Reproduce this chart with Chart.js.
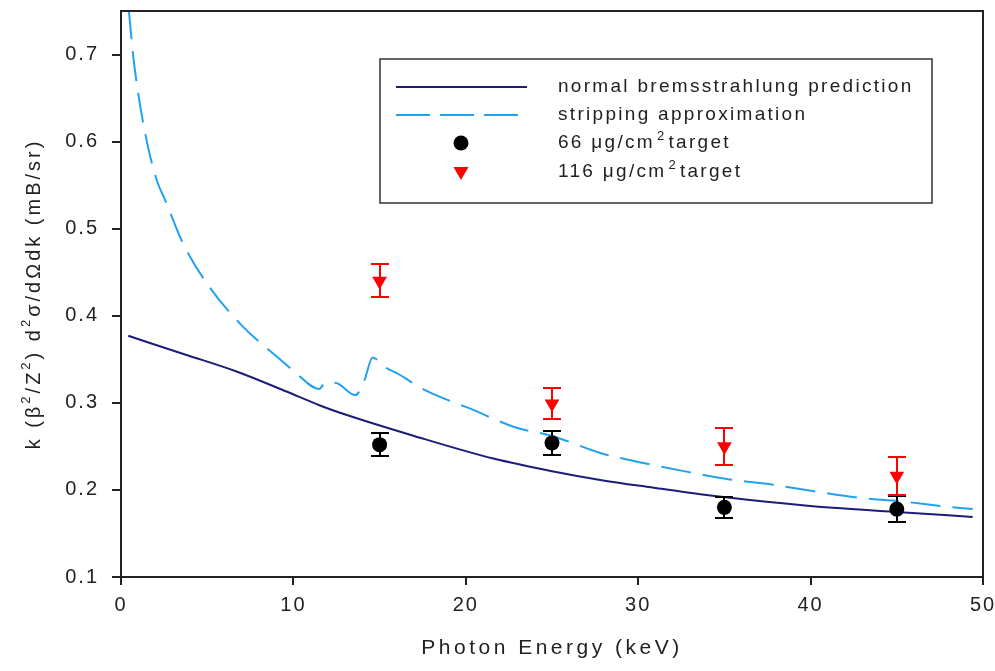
<!DOCTYPE html>
<html>
<head>
<meta charset="utf-8">
<script src="https://cdn.jsdelivr.net/npm/chart.js@4"></script>
<style>
  html, body { margin: 0; padding: 0; background: #fff; }
  #wrap { width: 995px; height: 671px; }
</style>
</head>
<body>
<div id="wrap"><canvas id="chart" width="995" height="671"></canvas></div>
<script>
// theory curves, photon energy (keV) vs k (b^2/Z^2) d2s/dOdk
const bremE = [0.42, 3.8, 6.7, 9.6, 11.54, 13.1, 17.0, 21.6, 25.0, 27.8, 30.9, 33.6, 37.45, 41.3, 45.2, 49.4];
const bremK = [0.377, 0.355, 0.336, 0.313, 0.297, 0.286, 0.262, 0.236, 0.2215, 0.2115, 0.2025, 0.195, 0.1865, 0.1795, 0.1745, 0.169];

const stripE = [0.45, 0.7, 1.0, 1.5, 2.07, 2.6, 3.6, 5.06, 7.0, 9.4, 10.1, 11.5, 11.85, 12.4, 13.6, 14.1, 14.6, 15.3, 16.0, 17.7, 20.3, 22.85, 25, 27.8, 30.3, 32.8, 35.3, 37.8, 40.2, 42.8, 45.2, 47.8, 49.4];
const stripK = [0.752, 0.70, 0.655, 0.60, 0.556, 0.531, 0.483, 0.435, 0.389, 0.347, 0.335, 0.316, 0.323, 0.323, 0.309, 0.325, 0.352, 0.341, 0.334, 0.314, 0.293, 0.272, 0.262, 0.2425, 0.231, 0.221, 0.212, 0.206, 0.1985, 0.191, 0.187, 0.181, 0.178];

// measured points
const dataE = [15, 25, 35, 45];
const thin = [0.252, 0.254, 0.180, 0.178];
const thinErr = [0.013, 0.014, 0.012, 0.015];
const thick = [0.440, 0.299, 0.250, 0.216];
const thickErr = [0.019, 0.018, 0.021, 0.022];

const xTicks = [0, 10, 20, 30, 40, 50];
const yTicks = [0.1, 0.2, 0.3, 0.4, 0.5, 0.6, 0.7];

const navy = '#1c1c7a';
const sky = '#22a2ee';
const FONT = "'Liberation Sans', Arial, sans-serif";

Chart.defaults.font.family = FONT;
Chart.defaults.font.size = 20;
Chart.defaults.color = '#222';

const pts = (xs, ys) => xs.map((e, i) => ({ x: e, y: ys[i] }));

// draws a run of text pieces, some of them raised and smaller
function richText(ctx, parts, x, y, size) {
  const widths = parts.map(p => {
    ctx.font = (p.sup ? Math.round(size * 0.65) : size) + 'px ' + FONT;
    return ctx.measureText(p.t).width;
  });
  const total = widths.reduce((a, b) => a + b, 0);
  let cx = x - total / 2;
  parts.forEach((p, i) => {
    ctx.font = (p.sup ? Math.round(size * 0.65) : size) + 'px ' + FONT;
    ctx.fillText(p.t, cx, p.sup ? y - size * 0.38 : y);
    cx += widths[i];
  });
}

// no extra room for overhanging tick labels, the plot box is fixed
function fixBox(s, w, h) {
  if (w) s.width = w;
  if (h) s.height = h;
  s.paddingLeft = s.paddingRight = s.paddingTop = s.paddingBottom = 0;
}

const errorBars = {
  id: 'errorBars',
  afterDatasetsDraw(chart) {
    const { ctx, scales: { x, y } } = chart;
    [[thin, thinErr, '#000'], [thick, thickErr, '#ff0000']].forEach(([vals, errs, col]) => {
      ctx.save();
      ctx.strokeStyle = col;
      ctx.lineWidth = 2;
      vals.forEach((v, i) => {
        const px = Math.round(x.getPixelForValue(dataE[i]));
        const top = Math.round(y.getPixelForValue(v + errs[i]));
        const bot = Math.round(y.getPixelForValue(v - errs[i]));
        ctx.beginPath();
        ctx.moveTo(px, top); ctx.lineTo(px, bot);
        ctx.moveTo(px - 9, top); ctx.lineTo(px + 9, top);
        ctx.moveTo(px - 9, bot); ctx.lineTo(px + 9, bot);
        ctx.stroke();
      });
      ctx.restore();
    });
  }
};

const decor = {
  id: 'decor',
  beforeDraw(chart) {
    chart.ctx.letterSpacing = '2px';
  },
  afterDraw(chart) {
    const { ctx, chartArea: a } = chart;
    ctx.save();
    // frame
    ctx.strokeStyle = '#222';
    ctx.lineWidth = 2;
    ctx.strokeRect(a.left, a.top, a.right - a.left, a.bottom - a.top);

    // axis titles
    ctx.fillStyle = '#222';
    ctx.textBaseline = 'middle';
    ctx.textAlign = 'center';
    ctx.letterSpacing = '3.5px';
    ctx.font = '21px ' + FONT;
    ctx.fillText('Photon Energy (keV)', (a.left + a.right) / 2, 648);

    ctx.save();
    ctx.translate(34, (a.top + a.bottom) / 2);
    ctx.rotate(-Math.PI / 2);
    ctx.textAlign = 'left';
    ctx.letterSpacing = '3px';
    richText(ctx, [
      { t: 'k (β' }, { t: '2', sup: true }, { t: '/Z' }, { t: '2', sup: true },
      { t: ') d' }, { t: '2', sup: true }, { t: 'σ/dΩdk (mB/sr)' }
    ], 0, 0, 20);
    ctx.restore();

    // legend
    ctx.lineWidth = 1.5;
    ctx.strokeStyle = '#333';
    ctx.strokeRect(380, 59, 552, 144);
    const rows = [87, 115, 143, 172];
    ctx.lineWidth = 2;
    ctx.strokeStyle = navy;
    ctx.beginPath(); ctx.moveTo(396, rows[0]); ctx.lineTo(527, rows[0]); ctx.stroke();
    ctx.strokeStyle = sky;
    ctx.setLineDash([34, 10]);
    ctx.beginPath(); ctx.moveTo(396, rows[1]); ctx.lineTo(527, rows[1]); ctx.stroke();
    ctx.setLineDash([]);
    ctx.fillStyle = '#000';
    ctx.beginPath(); ctx.arc(461, rows[2], 7.5, 0, Math.PI * 2); ctx.fill();
    ctx.fillStyle = '#ff0000';
    ctx.beginPath();
    ctx.moveTo(453.5, rows[3] - 5); ctx.lineTo(468.5, rows[3] - 5); ctx.lineTo(461, rows[3] + 8);
    ctx.closePath(); ctx.fill();

    ctx.fillStyle = '#222';
    ctx.textAlign = 'left';
    ctx.letterSpacing = '2.3px';
    ctx.font = '19px ' + FONT;
    ctx.fillText('normal bremsstrahlung prediction', 558, rows[0]);
    ctx.fillText('stripping approximation', 558, rows[1]);
    [['66 μg/cm', rows[2]], ['116 μg/cm', rows[3]]].forEach(([t, ry]) => {
      ctx.font = '19px ' + FONT;
      let cx = 558;
      ctx.fillText(t, cx, ry);
      cx += ctx.measureText(t).width + 2;
      ctx.font = '13px ' + FONT;
      ctx.fillText('2', cx, ry - 7);
      cx += ctx.measureText('2').width + 2;
      ctx.font = '19px ' + FONT;
      ctx.fillText('target', cx, ry);
    });
    ctx.restore();
  }
};

new Chart(document.getElementById('chart'), {
  type: 'line',
  data: {
    datasets: [
      {
        label: '66 ug/cm2 target',
        data: pts(dataE, thin),
        showLine: false,
        pointStyle: 'circle',
        pointRadius: 7.5,
        pointBackgroundColor: '#000',
        pointBorderWidth: 0,
        order: 1
      },
      {
        label: '116 ug/cm2 target',
        data: pts(dataE, thick),
        showLine: false,
        pointStyle: 'triangle',
        rotation: 180,
        pointRadius: 8.5,
        pointBackgroundColor: '#ff0000',
        pointBorderWidth: 0,
        order: 2
      },
      {
        label: 'stripping approximation',
        data: pts(stripE, stripK),
        borderColor: sky,
        borderWidth: 2,
        borderDash: [30, 12],
        pointRadius: 0,
        cubicInterpolationMode: 'monotone',
        order: 3
      },
      {
        label: 'normal bremsstrahlung prediction',
        data: pts(bremE, bremK),
        borderColor: navy,
        borderWidth: 2,
        pointRadius: 0,
        cubicInterpolationMode: 'monotone',
        order: 4
      }
    ]
  },
  options: {
    responsive: false,
    animation: false,
    layout: { padding: { top: 11, right: 12, left: 0, bottom: 0 } },
    plugins: { legend: { display: false }, tooltip: { enabled: false } },
    scales: {
      x: {
        type: 'linear',
        min: 0,
        max: 50,
        afterBuildTicks: s => { s.ticks = xTicks.map(v => ({ value: v })); },
        afterFit: s => fixBox(s, 0, 94),
        ticks: { padding: 8, maxRotation: 0, callback: v => String(v) },
        grid: { drawOnChartArea: false, tickLength: 8, color: '#222', lineWidth: 2 },
        border: { display: false }
      },
      y: {
        type: 'linear',
        min: 0.1,
        max: 0.75,
        afterBuildTicks: s => { s.ticks = yTicks.map(v => ({ value: v })); },
        afterFit: s => fixBox(s, 121, 0),
        ticks: { padding: 13, callback: v => v.toFixed(1) },
        grid: { drawOnChartArea: false, tickLength: 9, color: '#222', lineWidth: 2 },
        border: { display: false }
      }
    }
  },
  plugins: [errorBars, decor]
});
</script>
</body>
</html>
